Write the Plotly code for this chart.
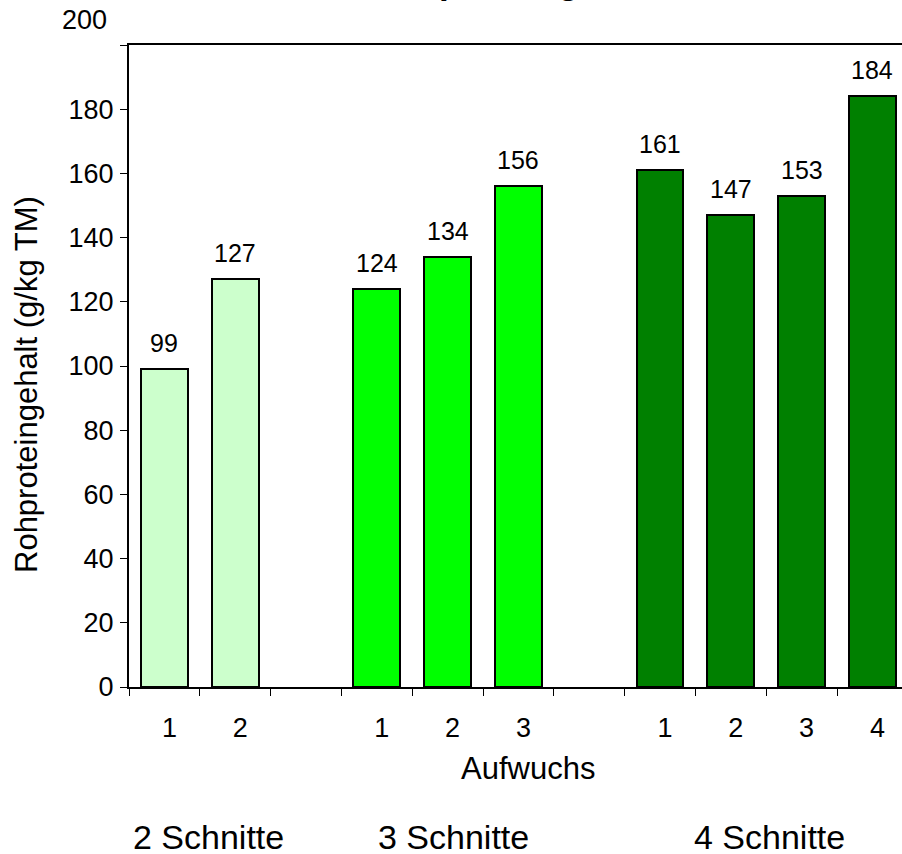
import plotly.graph_objects as go

# ---- data ----
group_names = ["2 Schnitte", "3 Schnitte", "4 Schnitte"]
aufwuchs_labels = [["1", "2"], ["1", "2", "3"], ["1", "2", "3", "4"]]
values = [[99, 127], [124, 134, 156], [161, 147, 153, 184]]
group_colors = ["#CCFFCC", "#00FF00", "#008000"]
y_ticks = [0, 20, 40, 60, 80, 100, 120, 140, 160, 180, 200]
title_text = "Rohproteingehalt"
y_title = "Rohproteingehalt (g/kg TM)"
x_title = "Aufwuchs"

FONT = "Liberation Sans, Arial, sans-serif"

fig = go.Figure()

# slot positions: groups separated by one empty slot
pos = 0
tickvals, ticktext, group_centers = [], [], []
for g, (labs, vals, col) in enumerate(zip(aufwuchs_labels, values, group_colors)):
    xs = list(range(pos, pos + len(vals)))
    fig.add_trace(go.Bar(
        x=xs, y=vals, width=0.66,
        marker=dict(color=col, line=dict(color="black", width=2)),
        showlegend=False, hoverinfo="x+y",
    ))
    for x, v in zip(xs, vals):
        fig.add_annotation(x=x, y=v, text=str(v), showarrow=False,
                           yanchor="bottom", yshift=10,
                           font=dict(family=FONT, size=25, color="black"))
    tickvals += xs
    ticktext += labs
    group_centers.append((xs[0] + xs[-1]) / 2)
    pos += len(vals) + 1

n_slots = pos - 1
boundaries = [i - 0.5 for i in range(n_slots + 1)]

group_shift = [9, 6, 3]
for name, c, s in zip(group_names, group_centers, group_shift):
    fig.add_annotation(x=c, y=0, yref="paper", text=name, showarrow=False,
                       yanchor="middle", yshift=-150, xshift=s,
                       font=dict(family=FONT, size=34, color="black"))

fig.add_annotation(x=0.5, y=0, xref="paper", yref="paper", text=x_title,
                   showarrow=False, yanchor="middle", yshift=-81, xshift=12,
                   font=dict(family=FONT, size=31, color="black"))

fig.add_annotation(x=0, y=0.5, xref="paper", yref="paper", text=y_title,
                   textangle=-90, showarrow=False, xanchor="center",
                   xshift=-103, yshift=-19,
                   font=dict(family=FONT, size=31, color="black"))

# the "200" label drawn above the frame
fig.add_annotation(x=0, y=y_ticks[-1], xref="paper", yref="y", text=str(y_ticks[-1]),
                   showarrow=False, xanchor="right", yanchor="middle",
                   xshift=-20, yshift=25,
                   font=dict(family=FONT, size=27, color="black"))

fig.add_annotation(x=0.5, y=1, xref="paper", yref="paper", text="<b>" + title_text + "</b>",
                   showarrow=False, yanchor="bottom", yshift=42,
                   font=dict(family=FONT, size=35, color="black"))

fig.update_layout(
    width=902, height=854,
    margin=dict(l=129, r=0, t=45, b=167),
    plot_bgcolor="white", paper_bgcolor="white",
    bargap=0,
    font=dict(family=FONT, color="black"),
    xaxis=dict(
        range=[-0.5, -0.5 + 773 / 70.8],
        tickmode="array", tickvals=tickvals, ticktext=ticktext,
        ticks="", ticklabelstandoff=16, ticklabelshift=5,
        tickfont=dict(family=FONT, size=27, color="black"),
        showline=True, linecolor="black", linewidth=2, mirror=True,
        showgrid=False, zeroline=False,
        minor=dict(tickmode="array", tickvals=boundaries, ticks="outside",
                   ticklen=7, tickwidth=1, tickcolor="black", showgrid=False),
    ),
    yaxis=dict(
        range=[0, 200],
        tickmode="array", tickvals=y_ticks,
        ticktext=[str(t) for t in y_ticks[:-1]] + [""],
        ticks="outside", ticklen=7, tickwidth=1, tickcolor="black",
        ticklabelstandoff=1,
        tickfont=dict(family=FONT, size=27, color="black"),
        showline=True, linecolor="black", linewidth=2,
        showgrid=False, zeroline=False,
    ),
)

fig.write_html("out.html", config={"displayModeBar": False},
               post_script="document.body.style.margin='0px';document.body.style.overflow='hidden';")
